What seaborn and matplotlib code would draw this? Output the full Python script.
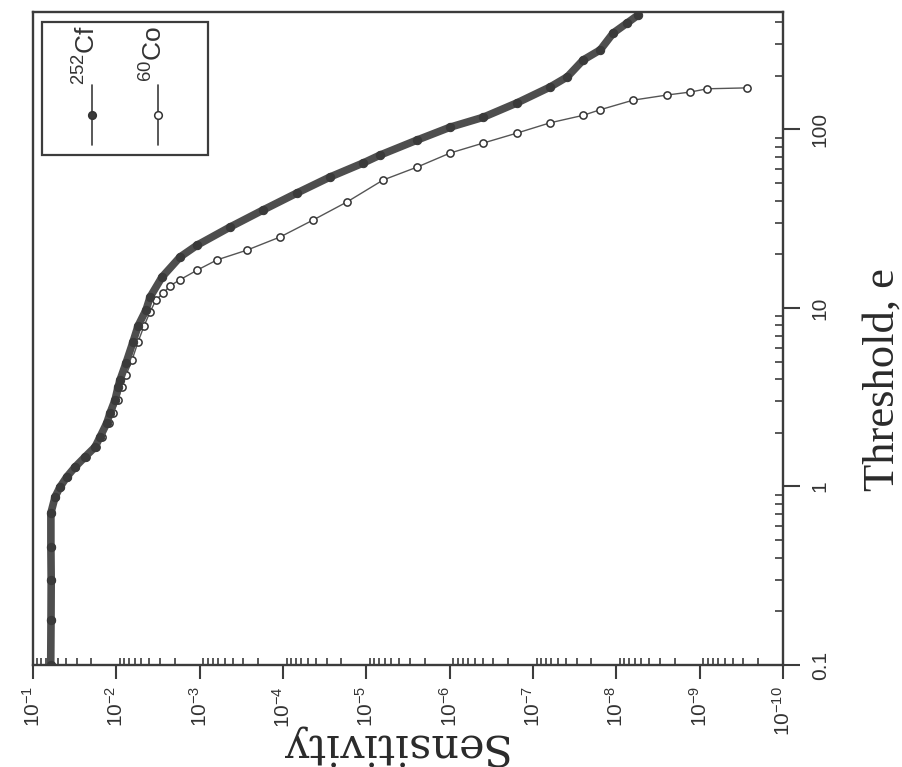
import numpy as np
import pandas as pd
import matplotlib
matplotlib.use("Agg")
import matplotlib.pyplot as plt
import seaborn as sns
from matplotlib.patches import Rectangle
from matplotlib.ticker import FixedLocator, LogLocator, NullFormatter

# ---- data ----
cf_threshold = [0.1, 0.179, 0.299, 0.458, 0.710, 0.873, 0.993, 1.13, 1.285, 1.463,
                1.664, 1.893, 2.27, 2.58, 3.05, 3.61, 3.95, 4.92, 6.45, 7.93,
                9.75, 11.5, 14.9, 19.3, 22.5, 28.4, 35.4, 44.1, 54.2, 64.9,
                71.9, 87.3, 103, 117, 141, 173, 197, 245, 279, 347, 395, 438]
cf_sensitivity = [0.0613, 0.0608, 0.0605, 0.0610, 0.0610, 0.0544, 0.0474, 0.0394, 0.0313, 0.0238,
                  0.0180, 0.0157, 0.0130, 0.0119, 0.01037, 0.00954, 0.00903, 0.00765, 0.00631, 0.00549,
                  0.00440, 0.00394, 0.00283, 0.00172, 0.00107, 4.32e-4, 1.73e-4, 6.77e-5, 2.72e-5, 1.09e-5,
                  6.83e-6, 2.45e-6, 9.86e-7, 3.96e-7, 1.55e-7, 6.22e-8, 3.88e-8, 2.50e-8, 1.56e-8, 1.09e-8,
                  7.40e-9, 5.46e-9]

co_threshold = [0.1, 0.179, 0.299, 0.458, 0.710, 0.873, 0.993, 1.13, 1.285, 1.463,
                1.664, 1.893, 2.27, 2.58, 3.05, 3.61, 4.21, 5.11, 6.45, 7.93,
                9.50, 11.1, 12.1, 13.3, 14.4, 16.3, 18.6, 21.1, 25.0, 31.1,
                39.3, 52.1, 61.6, 73.8, 83.9, 95.5, 109, 120, 129, 146,
                156, 162, 169, 171]
co_sensitivity = [0.0613, 0.0608, 0.0605, 0.0610, 0.0610, 0.0544, 0.0474, 0.0391, 0.0313, 0.0231,
                  0.0175, 0.0149, 0.01225, 0.01096, 0.00954, 0.00855, 0.00765, 0.00648, 0.00549, 0.00465,
                  0.00394, 0.00334, 0.00275, 0.00227, 0.00172, 0.00107, 6.18e-4, 2.70e-4, 1.08e-4, 4.35e-5,
                  1.70e-5, 6.29e-6, 2.45e-6, 9.86e-7, 3.96e-7, 1.55e-7, 6.22e-8, 2.50e-8, 1.56e-8, 6.27e-9,
                  2.45e-9, 1.30e-9, 8.11e-10, 2.68e-10]

sens_ticks = [1e-1, 1e-2, 1e-3, 1e-4, 1e-5, 1e-6, 1e-7, 1e-8, 1e-9, 1e-10]
sens_labels = [r"$10^{-1}$", r"$10^{-2}$", r"$10^{-3}$", r"$10^{-4}$", r"$10^{-5}$",
               r"$10^{-6}$", r"$10^{-7}$", r"$10^{-8}$", r"$10^{-9}$", r"$10^{-10}$"]
thr_ticks = [0.1, 1, 10, 100]
thr_labels = ["0.1", "1", "10", "100"]
series_names = [r"$^{252}$Cf", r"$^{60}$Co"]

# ---- style ----
sns.set_theme(style="white")
plt.rcParams["font.family"] = ["Liberation Sans", "DejaVu Sans"]
plt.rcParams["mathtext.fontset"] = "custom"
plt.rcParams["mathtext.rm"] = "Liberation Sans"
plt.rcParams["mathtext.it"] = "Liberation Sans:italic"
plt.rcParams["mathtext.bf"] = "Liberation Sans:bold"

ink = "#3c3c3c"
W, H = 903, 767
fig = plt.figure(figsize=(W / 100, H / 100), dpi=100)
fig.patch.set_facecolor("white")
ax = fig.add_axes([33 / W, 1 - 665 / H, 750 / W, 653 / H])
ax.set_facecolor("white")
ax.set_xscale("log")
ax.set_yscale("log")

df_cf = pd.DataFrame({"Sensitivity": cf_sensitivity, "Threshold": cf_threshold})
df_co = pd.DataFrame({"Sensitivity": co_sensitivity, "Threshold": co_threshold})

sns.lineplot(data=df_cf, x="Sensitivity", y="Threshold", sort=False, estimator=None,
             color="#4e4e4e", lw=5.5, marker="o", ms=6, mfc="#3a3a3a", mec="#3a3a3a",
             ax=ax, zorder=3)
sns.lineplot(data=df_co, x="Sensitivity", y="Threshold", sort=False, estimator=None,
             color="#555555", lw=1.0, marker="o", ms=5.2, mfc="white", mec="#333333", mew=1.1,
             ax=ax, zorder=2)

ax.set_xlim(1e-1, 1e-10)
ax.set_ylim(0.1, 455)

# ticks
ax.xaxis.set_major_locator(FixedLocator(sens_ticks))
ax.set_xticklabels(sens_labels, rotation=90, fontsize=15, color="#333333")
ax.xaxis.set_minor_locator(LogLocator(base=10, subs=np.arange(2, 10), numticks=100))
ax.xaxis.set_minor_formatter(NullFormatter())

ax.yaxis.tick_right()
ax.yaxis.set_major_locator(FixedLocator(thr_ticks))
ax.set_yticklabels(thr_labels, rotation=90, fontsize=15, color="#333333", va="center")
ax.yaxis.set_minor_locator(LogLocator(base=10, subs=np.arange(2, 10), numticks=100))
ax.yaxis.set_minor_formatter(NullFormatter())

ax.tick_params(axis="x", which="major", direction="out", length=10, width=1.5,
               bottom=True, top=False, pad=5, color=ink)
ax.tick_params(axis="x", which="minor", direction="in", length=5, width=1.2,
               bottom=True, top=False, color=ink)
ax.tick_params(axis="y", which="major", direction="out", length=12, width=1.5,
               left=False, right=True, labelleft=False, labelright=True, pad=8, color=ink)
ax.tick_params(axis="y", which="minor", direction="in", length=6, width=1.2,
               left=False, right=True, color=ink)

for s in ax.spines.values():
    s.set_visible(True)
    s.set_color(ink)
    s.set_linewidth(1.7)

ax.set_xlabel("")
ax.set_ylabel("")

# axis titles (rotated like the reference)
fig.text(392 / W, 1 - 745 / H, "Sensitivity", rotation=180, ha="center", va="center",
         family="DejaVu Serif", fontsize=31, color="#2a2a2a")
fig.text(883 / W, 1 - 380 / H, "Threshold, e", rotation=90, ha="center", va="center",
         family="Liberation Serif", fontsize=32, color="#2a2a2a")

# legend (drawn rotated, like the reference)
ax.add_patch(Rectangle((0.012, 0.781), 0.221, 0.204, transform=ax.transAxes,
                       fill=False, lw=1.6, ec=ink, zorder=5))
for xpos, name, face in [(0.078, series_names[0], "#3a3a3a"), (0.167, series_names[1], "white")]:
    ax.plot([xpos, xpos], [0.796, 0.888], transform=ax.transAxes, color=ink, lw=1.2, zorder=6)
    ax.plot([xpos], [0.842], transform=ax.transAxes, marker="o", ms=5.5, mfc=face,
            mec="#333333", mew=1.1, zorder=7)
    ax.text(xpos - 0.006, 0.935, name, rotation=90, ha="center", va="center",
            transform=ax.transAxes, fontsize=19, color="#333333", zorder=7)

fig.savefig("out.png", dpi=100, facecolor="white")
